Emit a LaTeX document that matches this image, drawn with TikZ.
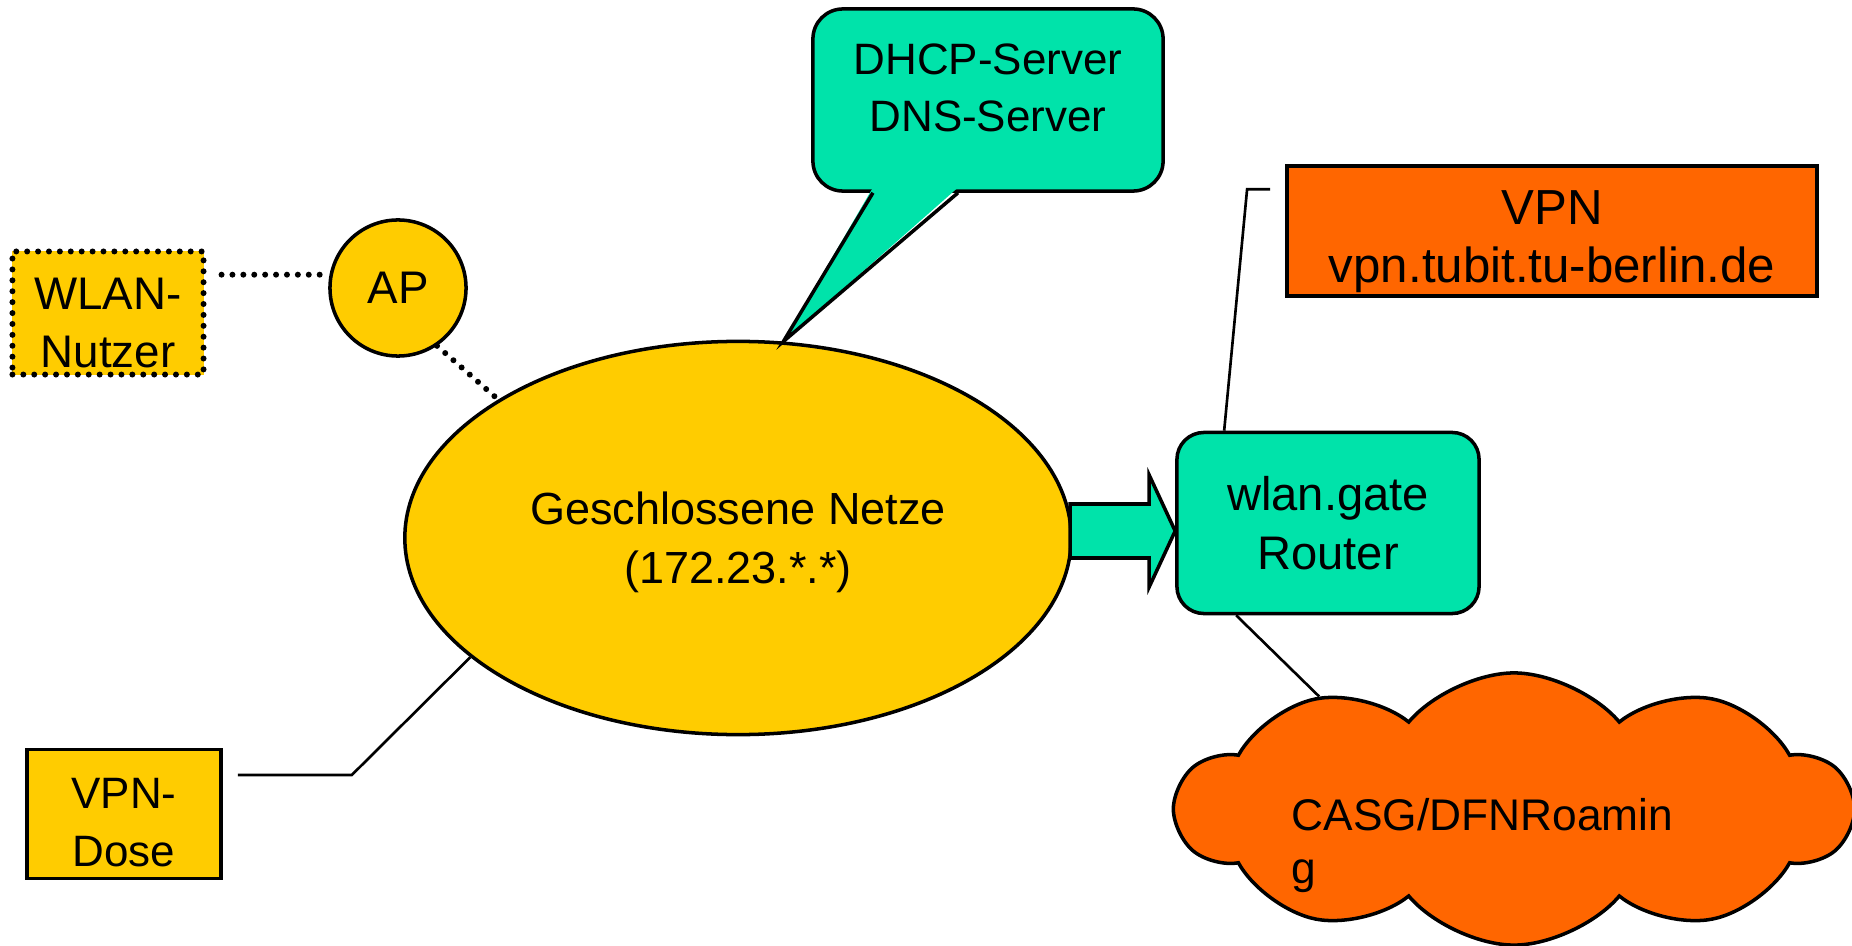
\documentclass[tikz,border=0pt]{standalone}
\usepackage{fontspec}
\setmainfont{Liberation Sans}
\usetikzlibrary{calc,shapes.geometric,shapes.symbols}

\definecolor{gelb}{HTML}{FFCC00}
\definecolor{tuerkis}{HTML}{00E3AA}
\definecolor{signalorange}{HTML}{FF6600}

\begin{document}
\begin{tikzpicture}[
		x=0.01cm, y=-0.01cm,
		font=\fontsize{13}{16.5}\selectfont,
		rand/.style={draw=black, line width=1pt},
		kasten/.style={rand, align=center, inner sep=0pt},
		linie/.style={draw=black, line width=0.75pt},
		punktiert/.style={draw=black, line width=1.7pt, line cap=round, dash pattern=on 0pt off 3.1pt}
	]

	\useasboundingbox (0,0) rectangle (1852,946);

	\node[kasten, fill=gelb, punktiert, minimum width=1.91cm, minimum height=1.23cm, text height=1.08cm, text depth=0pt] (wlan) at (108,313) {WLAN-\\Nutzer};
	\node[rand, circle, fill=gelb, minimum size=1.36cm, inner sep=0pt] (ap) at (398,288) {AP};
	\node[rand, ellipse, fill=gelb, minimum width=6.66cm, minimum height=3.93cm, inner sep=0pt, align=center, text depth=0pt, font=\fontsize{12.8}{16.8}\selectfont] (netz) at (738,538) {Geschlossene Netze\\(172.23.*.*)};

	\node[kasten, fill=tuerkis, rounded corners=0.3cm, minimum width=3.5cm, minimum height=1.82cm, text depth=0.25cm, font=\fontsize{12.5}{16.2}\selectfont] (dienste) at (988,100) {DHCP-Server\\DNS-Server};
	\fill[tuerkis] ([xshift=-1.15cm,yshift=1.5pt]dienste.south) -- (netz.77) -- ([xshift=-0.3cm,yshift=1.5pt]dienste.south) -- cycle;
	\draw[rand] ([xshift=-1.15cm]dienste.south) -- (netz.77) -- ([xshift=-0.3cm]dienste.south);

	\node[kasten, fill=signalorange, minimum width=5.3cm, minimum height=1.3cm, text height=1.02cm, text depth=0pt, font=\fontsize{14}{16.5}\selectfont] (vpn) at (1552,231) {VPN\\vpn.tubit.tu-berlin.de};
	\node[kasten, fill=tuerkis, rounded corners=0.27cm, minimum width=3.02cm, minimum height=1.81cm, font=\fontsize{13.4}{16.8}\selectfont] (router) at (1328,523) {wlan.gate\\Router};

	% Blockpfeil zum Router
	\coordinate (pfeilfuss) at (1070,531);
	\coordinate (pfeilspitze) at (pfeilfuss -| router.west);
	\draw[rand, fill=tuerkis] ($(pfeilfuss)+(0,-27)$) -- ($(pfeilspitze)+(-26,-27)$) -- ($(pfeilspitze)+(-26,-56)$) -- (pfeilspitze) -- ($(pfeilspitze)+(-26,56)$) -- ($(pfeilspitze)+(-26,27)$) -- ($(pfeilfuss)+(0,27)$) -- cycle;

	\node[rand, fill=signalorange, cloud, cloud puffs=10, cloud puff arc=100, cloud ignores aspect, minimum width=6.74cm, minimum height=2.72cm, inner sep=0pt] (wolke) at (1514,809) {};
	\node[anchor=north west, inner sep=0pt, align=left, font=\fontsize{12.6}{15}\selectfont] (wolkentext) at (1291,798) {CASG/DFNRoamin\\g};

	\node[kasten, fill=gelb, minimum width=1.94cm, minimum height=1.29cm, text height=1.05cm, text depth=0pt, font=\fontsize{12.5}{16.5}\selectfont] (dose) at (124,814) {VPN-\\Dose};

	\draw[punktiert] ($(wlan.east |- ap.169)+(15,0)$) -- (ap.169);
	\draw[punktiert] (ap.-56) -- (netz.150);
	\draw[linie] ($(dose.east)+(15,-39)$) -- ++(114,0) -- (netz.204);
	\draw[linie] ($(router.north west)+(49,0)$) -- ($(vpn.north west)+(-38,25)$) -- ($(vpn.north west)+(-15,25)$);
	\draw[linie] ($(router.south west)+(61,0)$) -- (wolke.150);
\end{tikzpicture}
\end{document}
